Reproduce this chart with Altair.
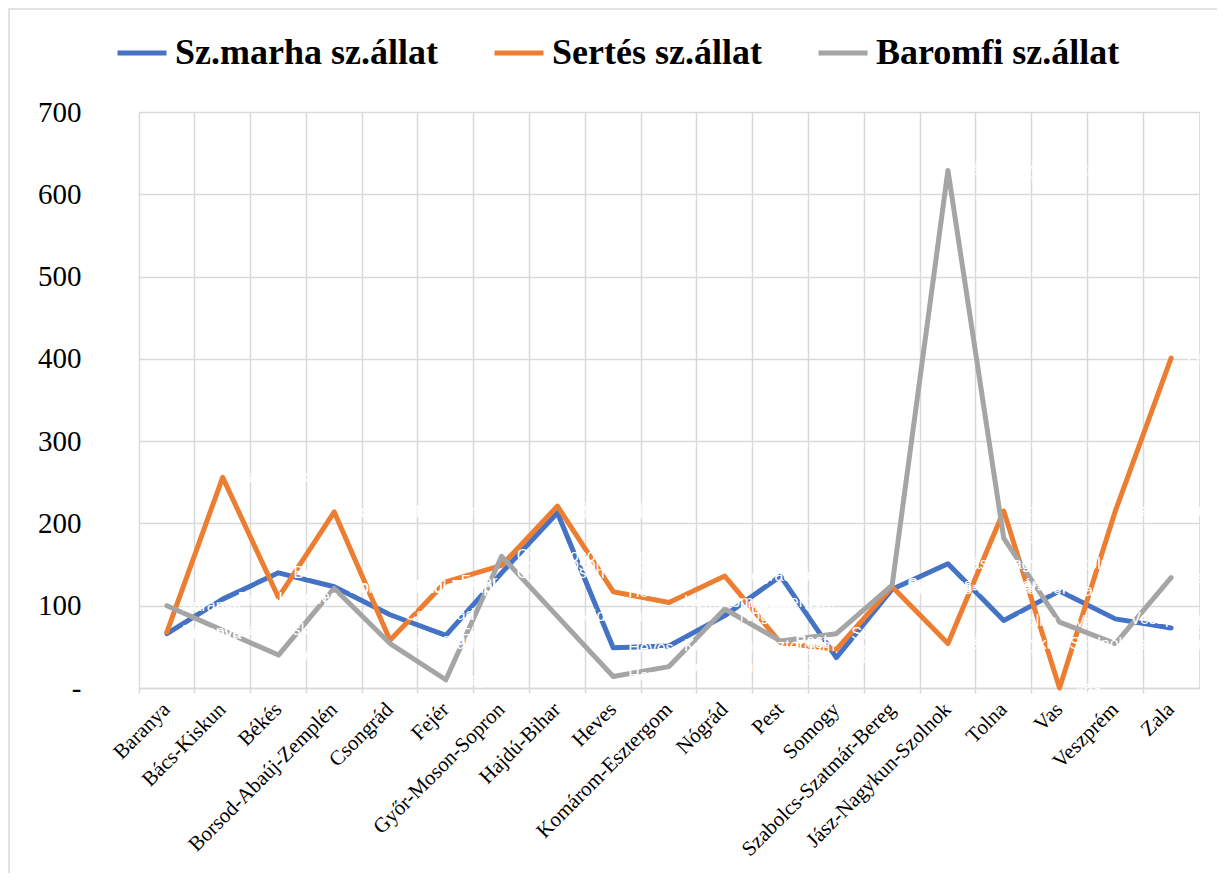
import altair as alt
import pandas as pd

counties = ["Baranya", "Bács-Kiskun", "Békés", "Borsod-Abaúj-Zemplén", "Csongrád", "Fejér",
            "Győr-Moson-Sopron", "Hajdú-Bihar", "Heves", "Komárom-Esztergom", "Nógrád", "Pest",
            "Somogy", "Szabolcs-Szatmár-Bereg", "Jász-Nagykun-Szolnok", "Tolna", "Vas",
            "Veszprém", "Zala"]
series_names = ["Sz.marha sz.állat", "Sertés sz.állat", "Baromfi sz.állat"]
marha = [66, 108, 140, 123, 89, 64, 140, 213, 49, 51, 88, 136, 37, 120, 151, 82, 118, 84, 73]
sertes = [68, 256, 110, 214, 58, 129, 149, 221, 117, 104, 136, 55, 47, 123, 54, 215, 0, 215, 401]
baromfi = [100, 70, 40, 121, 54, 10, 160, 87, 14, 26, 96, 57, 66, 125, 629, 182, 80, 54, 134]
colors = ["#4472C4", "#ED7D31", "#A5A5A5"]
y_ticks = [0, 100, 200, 300, 400, 500, 600, 700]

rows = []
for name, vals in zip(series_names, [marha, sertes, baromfi]):
    for i, (c, v) in enumerate(zip(counties, vals)):
        rows.append({"megye": c, "sorozat": name, "ertek": v, "idx": i})
df = pd.DataFrame(rows)

SERIF = "Liberation Serif"

x_enc = alt.X("megye:N", sort=counties, scale=alt.Scale(type="band", paddingInner=0, paddingOuter=0),
              axis=alt.Axis(title=None, labelAngle=-45, labelFont=SERIF, labelFontSize=21,
                            labelColor="#000000", labelPadding=13, bandPosition=0,
                            grid=True, gridColor="#d9d9d9", gridWidth=1.5,
                            domainColor="#d9d9d9", domainWidth=1.5,
                            tickColor="#d9d9d9", tickSize=5, tickWidth=1.5,
                            labelAlign="right", labelBaseline="middle", labelOverlap=False,
                            labelLimit=600, labelBound=False))
y_enc = alt.Y("ertek:Q", scale=alt.Scale(domain=[0, 700], nice=False),
              axis=alt.Axis(title=None, values=y_ticks, labelFont=SERIF, labelFontSize=29,
                            labelColor="#000000", labelPadding=58, ticks=False, domain=False,
                            grid=True, gridColor="#d9d9d9", gridWidth=1.5,
                            labelExpr="datum.value === 0 ? '-' : datum.label"))

lines = alt.Chart(df).mark_line(strokeWidth=5, strokeCap="round", strokeJoin="round").encode(
    x=x_enc,
    y=y_enc,
    color=alt.Color("sorozat:N", sort=series_names,
                    scale=alt.Scale(domain=series_names, range=colors),
                    legend=alt.Legend(title=None, orient="none", direction="horizontal",
                                      legendX=-24, legendY=-86,
                                      symbolType="stroke", symbolSize=2400, symbolStrokeWidth=5,
                                      labelFont=SERIF, labelFontSize=36, labelFontWeight="bold",
                                      labelColor="#000000", labelOffset=6, columnPadding=46,
                                      labelLimit=500)),
    order=alt.Order("idx:Q"),
)

labels = alt.Chart(df).mark_text(align="left", baseline="middle", dx=15, color="#ffffff",
                                 font="Liberation Sans", fontSize=16).encode(
    x=alt.X("megye:N", sort=counties),
    y=alt.Y("ertek:Q"),
    text="megye:N",
)

frame = alt.Chart(pd.DataFrame({"a": [0]})).mark_rect(filled=False, stroke="#d9d9d9", strokeWidth=1.5).encode(
    x=alt.value(-130), x2=alt.value(1300), y=alt.value(-103), y2=alt.value(1000)
)

chart = alt.layer(frame, lines, labels).properties(
    width=1060, height=576,
    autosize=alt.AutoSizeParams(type="none"),
    padding={"left": 131, "top": 104, "right": 18, "bottom": 185},
).configure_view(stroke="#d9d9d9", strokeWidth=1.5).configure(background="#ffffff")

chart.save("out.html", embed_options={"renderer": "svg", "actions": False})
